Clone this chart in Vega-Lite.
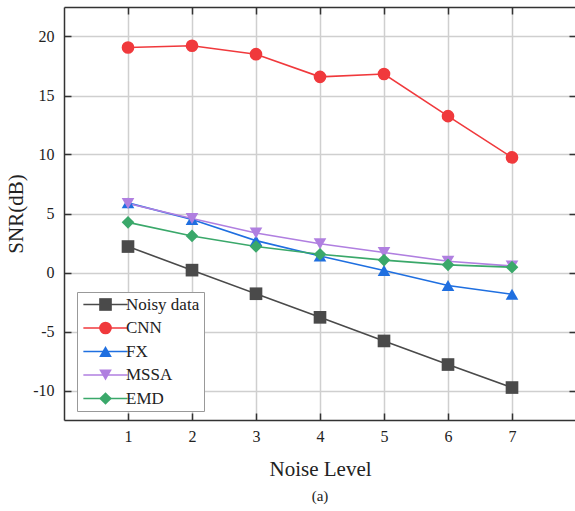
{
  "$schema": "https://vega.github.io/schema/vega-lite/v6.json",
  "width": 512,
  "height": 413,
  "autosize": {"type": "none"},
  "padding": {"left": 64, "top": 7, "right": 0, "bottom": 91},
  "background": "white",
  "config": {
    "font": "Liberation Serif",
    "view": {"stroke": null},
    "axis": {"labelFont": "Liberation Serif", "titleFont": "Liberation Serif", "labelColor": "#222", "titleColor": "#222", "titleFontWeight": "normal"},
    "legend": {"labelFont": "Liberation Serif"}
  },
  "title": {"text": "(a)", "orient": "bottom", "anchor": "middle", "font": "Liberation Serif", "fontSize": 15, "fontWeight": "normal", "color": "#222", "offset": 10},
  "data": {"values": [
    {"level": 1, "method": "Noisy data", "snr": 2.2},
    {"level": 2, "method": "Noisy data", "snr": 0.2},
    {"level": 3, "method": "Noisy data", "snr": -1.8},
    {"level": 4, "method": "Noisy data", "snr": -3.8},
    {"level": 5, "method": "Noisy data", "snr": -5.8},
    {"level": 6, "method": "Noisy data", "snr": -7.8},
    {"level": 7, "method": "Noisy data", "snr": -9.75},
    {"level": 1, "method": "CNN", "snr": 19.07},
    {"level": 2, "method": "CNN", "snr": 19.22},
    {"level": 3, "method": "CNN", "snr": 18.5},
    {"level": 4, "method": "CNN", "snr": 16.58},
    {"level": 5, "method": "CNN", "snr": 16.82},
    {"level": 6, "method": "CNN", "snr": 13.25},
    {"level": 7, "method": "CNN", "snr": 9.75},
    {"level": 1, "method": "FX", "snr": 5.9},
    {"level": 2, "method": "FX", "snr": 4.5},
    {"level": 3, "method": "FX", "snr": 2.7},
    {"level": 4, "method": "FX", "snr": 1.4},
    {"level": 5, "method": "FX", "snr": 0.17},
    {"level": 6, "method": "FX", "snr": -1.1},
    {"level": 7, "method": "FX", "snr": -1.85},
    {"level": 1, "method": "MSSA", "snr": 5.85},
    {"level": 2, "method": "MSSA", "snr": 4.58},
    {"level": 3, "method": "MSSA", "snr": 3.35},
    {"level": 4, "method": "MSSA", "snr": 2.43},
    {"level": 5, "method": "MSSA", "snr": 1.7},
    {"level": 6, "method": "MSSA", "snr": 0.95},
    {"level": 7, "method": "MSSA", "snr": 0.55},
    {"level": 1, "method": "EMD", "snr": 4.25},
    {"level": 2, "method": "EMD", "snr": 3.1},
    {"level": 3, "method": "EMD", "snr": 2.2},
    {"level": 4, "method": "EMD", "snr": 1.55},
    {"level": 5, "method": "EMD", "snr": 1.05},
    {"level": 6, "method": "EMD", "snr": 0.65},
    {"level": 7, "method": "EMD", "snr": 0.45}
  ]},
  "layer": [
    {
      "mark": {"type": "line", "strokeWidth": 1.6},
      "encoding": {
        "x": {"field": "level", "type": "quantitative", "scale": {"domain": [0, 8], "nice": false},
          "axis": {"orient": "top", "values": [1, 2, 3, 4, 5, 6, 7], "labels": false, "grid": false, "title": null, "tickSize": -7, "tickWidth": 1.5, "tickColor": "#333", "domainColor": "#333", "domainWidth": 1.5}},
        "y": {"field": "snr", "type": "quantitative", "scale": {"domain": [-12.5, 22.5], "nice": false, "zero": false},
          "axis": {"orient": "right", "values": [-10, -5, 0, 5, 10, 15, 20], "labels": false, "grid": false, "title": null, "tickSize": -7, "tickWidth": 1.5, "tickColor": "#333", "domainColor": "#333", "domainWidth": 1.5}},
        "stroke": {"field": "method", "type": "nominal", "sort": null,
          "scale": {"range": ["#4a4a4a", "#f0393c", "#1f6fe0", "#b07fe0", "#3aa86a"]},
          "legend": {"title": null, "orient": "none", "legendX": 13, "legendY": 285, "zindex": 0, "symbolType": "M-3.5,0H3.5", "symbolSize": 160, "symbolStrokeWidth": 1.6, "symbolOffset": 16, "labelFont": "Liberation Serif", "labelFontSize": 17, "labelColor": "transparent", "labelOffset": 12, "rowPadding": 5.5, "padding": 4, "strokeColor": "#999", "fillColor": "white"}}
      }
    },
    {
      "mark": {"type": "point", "filled": true, "size": 160, "opacity": 1},
      "encoding": {
        "x": {"field": "level", "type": "quantitative",
          "axis": {"orient": "bottom", "values": [1, 2, 3, 4, 5, 6, 7], "grid": true, "gridColor": "#cfcfcf", "gridWidth": 1.5, "title": "Noise Level", "titleFont": "Liberation Serif", "titleFontSize": 21, "titlePadding": 14, "labelFont": "Liberation Serif", "labelFontSize": 16, "labelPadding": 15, "tickSize": -7, "tickWidth": 1.5, "tickColor": "#333", "domainColor": "#333", "domainWidth": 1.5}},
        "y": {"field": "snr", "type": "quantitative",
          "axis": {"orient": "left", "values": [-10, -5, 0, 5, 10, 15, 20], "labelExpr": "toString(datum.value)", "grid": true, "gridColor": "#cfcfcf", "gridWidth": 1.5, "title": "SNR(dB)", "titleFont": "Liberation Serif", "titleFontSize": 21, "titlePadding": 6, "labelFont": "Liberation Serif", "labelFontSize": 16, "labelPadding": 17, "tickSize": -7, "tickWidth": 1.5, "tickColor": "#333", "domainColor": "#333", "domainWidth": 1.5}},
        "color": {"field": "method", "type": "nominal",
          "scale": {"domain": ["Noisy data", "CNN", "FX", "MSSA", "EMD"], "range": ["#4a4a4a", "#f0393c", "#1f6fe0", "#b07fe0", "#3aa86a"]},
          "legend": {"title": null, "orient": "none", "legendX": 13, "legendY": 285, "zindex": 1, "symbolSize": 160, "symbolStrokeWidth": 1.6, "symbolOffset": 16, "labelFont": "Liberation Serif", "labelFontSize": 17, "labelColor": "#222", "labelOffset": 12, "rowPadding": 5.5, "padding": 4, "strokeColor": "transparent", "fillColor": "transparent"}},
        "shape": {"field": "method", "type": "nominal",
          "scale": {"domain": ["Noisy data", "CNN", "FX", "MSSA", "EMD"], "range": ["square", "circle", "triangle-up", "triangle-down", "diamond"]},
          "legend": {"title": null, "orient": "none", "legendX": 13, "legendY": 285, "zindex": 1, "symbolSize": 160, "symbolStrokeWidth": 1.6, "symbolOffset": 16, "labelFont": "Liberation Serif", "labelFontSize": 17, "labelColor": "#222", "labelOffset": 12, "rowPadding": 5.5, "padding": 4, "strokeColor": "transparent", "fillColor": "transparent"}}
      }
    }
  ],
  "resolve": {"axis": {"x": "independent", "y": "independent"}}
}
